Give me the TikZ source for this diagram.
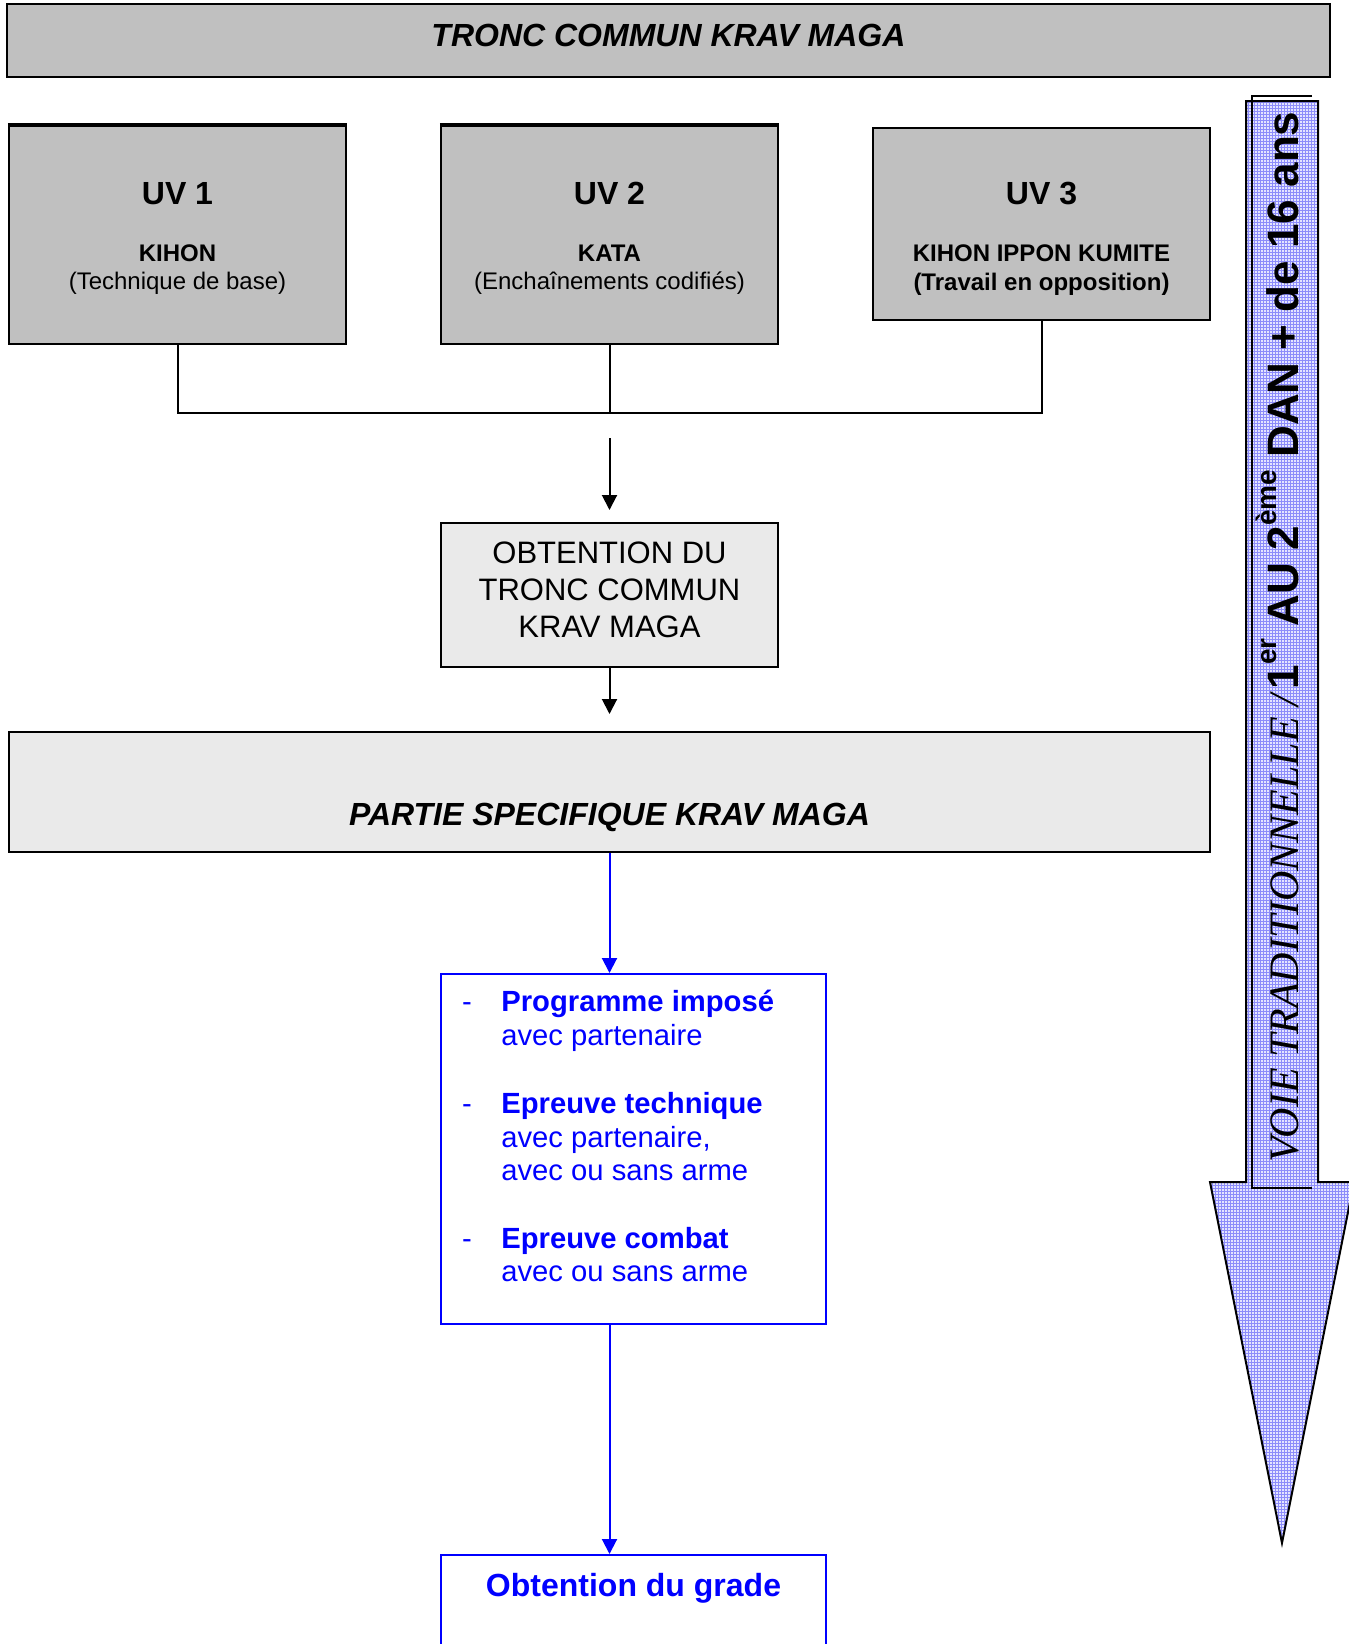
\documentclass[tikz,border=0pt]{standalone}
\usepackage{fontspec}
\setmainfont{Liberation Sans}
\newfontfamily\timesfont{Liberation Serif}
\usetikzlibrary{arrows.meta,patterns}
\definecolor{grayA}{RGB}{192,192,192}
\definecolor{grayB}{RGB}{234,234,234}
\definecolor{pureblue}{RGB}{0,0,255}
\definecolor{arrowbg}{RGB}{228,228,255}
\definecolor{arrowgrid}{RGB}{140,140,250}
\pgfdeclarepatternformonly{finegrid}{\pgfqpoint{-0.1pt}{-0.1pt}}{\pgfqpoint{1.6pt}{1.6pt}}{\pgfqpoint{1.5pt}{1.5pt}}{%
  \pgfsetlinewidth{0.35pt}%
  \pgfpathmoveto{\pgfqpoint{0pt}{0pt}}\pgfpathlineto{\pgfqpoint{1.5pt}{0pt}}%
  \pgfpathmoveto{\pgfqpoint{0pt}{0pt}}\pgfpathlineto{\pgfqpoint{0pt}{1.5pt}}%
  \pgfusepath{stroke}}
\begin{document}
\begin{tikzpicture}[x=0.5pt,y=-0.5pt,
  boxk/.style={draw=black, line width=1.2pt, inner sep=0pt},
  boxb/.style={draw=pureblue, line width=1pt, inner sep=0pt, fill=white},
  conn/.style={draw=black, line width=1pt},
  bconn/.style={draw=pureblue, line width=1pt},
  tip/.style={-{Triangle[length=7.5pt,width=7.5pt]}},
  txt/.style={anchor=base, inner sep=0pt},
  ftitle/.style={font=\fontsize{16}{19}\selectfont\bfseries\itshape},
  fuv/.style={font=\fontsize{16}{19}\selectfont\bfseries},
  fsubb/.style={font=\fontsize{12}{14}\selectfont\bfseries},
  fsub/.style={font=\fontsize{12}{14}\selectfont},
  fobt/.style={font=\fontsize{15.5}{18}\selectfont},
  fitem/.style={font=\fontsize{14.6}{16.8}\selectfont, text=pureblue, anchor=base west, inner sep=0pt},
  fitemb/.style={fitem, font=\fontsize{14.6}{16.8}\selectfont\bfseries},
  fdash/.style={font=\fontsize{14.6}{16.8}\selectfont, text=pureblue, anchor=base, inner sep=0pt},
  bigarrow/.style={line width=1pt, line join=miter}
]
\useasboundingbox (0,0) rectangle (1349,1644);
\clip (0,0) rectangle (1349,1644);

% ---- banner
\node[boxk, fill=grayA, minimum width=661.5pt, minimum height=36.5pt] (banner) at (668.5,40.5) {};
\node[txt, ftitle] (bannert) at (668.5,46) {TRONC COMMUN KRAV MAGA};

% ---- UV boxes
\node[boxk, fill=grayA, minimum width=168.5pt, minimum height=109pt] (uv1) at (177.5,235) {};
\node[boxk, fill=grayA, minimum width=168.5pt, minimum height=109pt] (uv2) at (609.5,235) {};
\node[boxk, fill=grayA, minimum width=168.5pt, minimum height=96pt] (uv3) at (1041.5,224) {};
\draw[line width=2pt] (uv1.north west) -- (uv1.north east);
\draw[line width=2pt] (uv2.north west) -- (uv2.north east);

\node[txt, fuv] (uv1a) at (177.5,204.5) {UV 1};
\node[txt, fsubb] (uv1b) at (177.5,261) {KIHON};
\node[txt, fsub] (uv1c) at (177.5,289) {(Technique de base)};

\node[txt, fuv] (uv2a) at (609.5,204.5) {UV 2};
\node[txt, fsubb] (uv2b) at (609.5,261) {KATA};
\node[txt, fsub] (uv2c) at (609.5,289) {(Enchaînements codifiés)};

\node[txt, fuv] (uv3a) at (1041.5,204.5) {UV 3};
\node[txt, fsubb] (uv3b) at (1041.5,261) {KIHON IPPON KUMITE};
\node[txt, fsubb] (uv3c) at (1041.5,290) {(Travail en opposition)};

% ---- tree connector
\coordinate (jn) at (609.5,413);
\draw[conn] (uv1.south) |- (jn) -| (uv3.south);
\draw[conn] (uv2.south) -- (jn);

% ---- obtention tronc commun
\coordinate (a1s) at (609.5,438);
\coordinate (a1e) at (609.5,510);
\draw[conn, tip] (a1s) -- (a1e);
\node[boxk, fill=grayB, minimum width=168.5pt, minimum height=72pt] (obt) at (609.5,595) {};
\node[txt, fobt] (obt1) at (609.5,563.5) {OBTENTION DU};
\node[txt, fobt] (obt2) at (609.5,600.5) {TRONC COMMUN};
\node[txt, fobt] (obt3) at (609.5,637.5) {KRAV MAGA};

\coordinate (a2e) at (609.5,714);
\draw[conn, tip] (obt.south) -- (a2e);

% ---- partie specifique
\node[boxk, fill=grayB, minimum width=600.5pt, minimum height=60pt] (part) at (609.5,792) {};
\node[txt, ftitle] (partt) at (609.5,825) {PARTIE SPECIFIQUE KRAV MAGA};

% ---- blue list box
\node[boxb, minimum width=192.5pt, minimum height=175pt] (list) at (633.5,1149) {};
\draw[bconn, tip] (part.south) -- (list.north -| part.south);

\node[fdash] (d1) at (467,1011.5) {-};
\node[fdash] (d2) at (467,1113.5) {-};
\node[fdash] (d3) at (467,1248) {-};
\node[fitemb] (l1) at (501,1011.5) {Programme imposé};
\node[fitem]  (l2) at (501,1045) {avec partenaire};
\node[fitemb] (l3) at (501,1113.5) {Epreuve technique};
\node[fitem]  (l4) at (501,1147) {avec partenaire,};
\node[fitem]  (l5) at (501,1180.5) {avec ou sans arme};
\node[fitemb] (l6) at (501,1248) {Epreuve combat};
\node[fitem]  (l7) at (501,1281.5) {avec ou sans arme};

% ---- bottom box
\node[boxb, minimum width=192.5pt, minimum height=72.5pt] (grade) at (633.5,1627.5) {};
\draw[bconn, tip] (list.south -| part.south) -- (grade.north -| part.south);
\node[txt, font=\fontsize{16}{19}\selectfont\bfseries, text=pureblue] (gradet) at (633.5,1596) {Obtention du grade};

% ---- big arrow on the right
\path[fill=arrowbg] (1246,101) -- (1318,101) -- (1318,1182) -- (1354,1182) -- (1282,1543) -- (1210,1182) -- (1246,1182) -- cycle;
\path[pattern=finegrid, pattern color=arrowgrid] (1246,101) -- (1318,101) -- (1318,1182) -- (1354,1182) -- (1282,1543) -- (1210,1182) -- (1246,1182) -- cycle;
\draw[bigarrow] (1246,101) -- (1318,101) -- (1318,1182) -- (1354,1182) -- (1282,1543) -- (1210,1182) -- (1246,1182) -- cycle;
\draw[line width=1pt] (1312,96) -- (1252,96) -- (1252,1188) -- (1312,1188);

\node[rotate=90, anchor=base west, inner sep=0pt] (voie) at (1298,1163)
  {{\timesfont\fontsize{21}{24}\selectfont\itshape VOIE TRADITIONNELLE /} {\fontsize{22}{25}\selectfont\bfseries 1\raisebox{0.5em}{\fontsize{14}{15}\selectfont er} AU 2\raisebox{0.5em}{\fontsize{14}{15}\selectfont ème} DAN + de 16 ans}};
\end{tikzpicture}
\end{document}
